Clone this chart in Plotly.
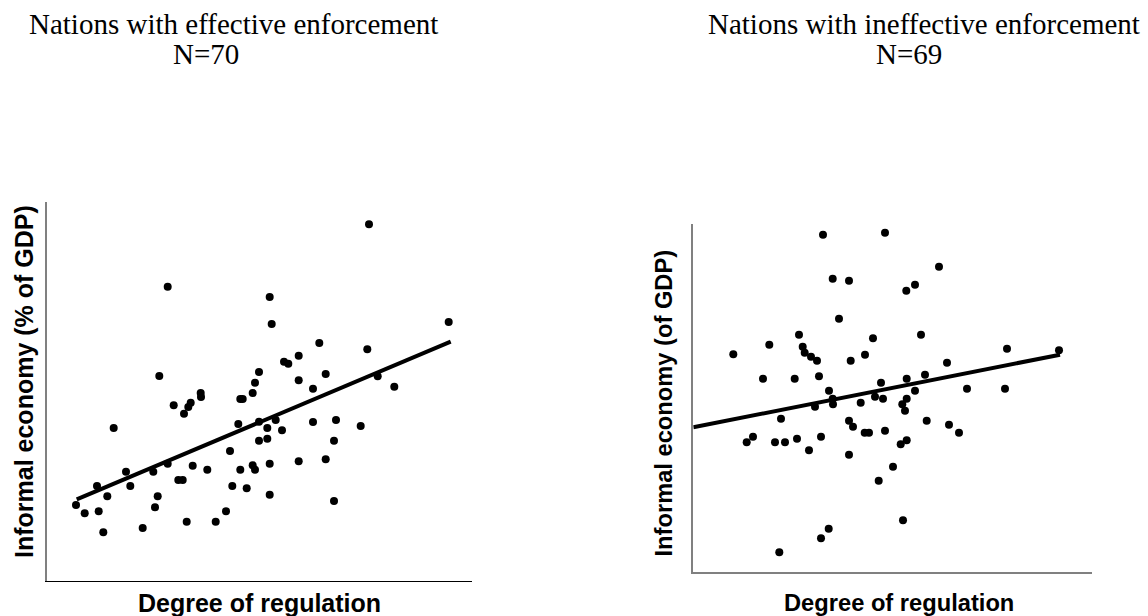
import plotly.graph_objects as go

W, H = 1148, 616

# ---------------- Data (arbitrary units, no tick values shown) ----------------
eff_reg = [29.0, 37.7, 50.0, 51.7, 56.3, 60.3, 66.7, 79.0, 83.3, 95.7,
           106.3, 108.0, 110.7, 112.3, 120.7, 120.7, 126.7, 131.3, 135.7, 137.0,
           139.7, 141.3, 143.7, 145.7, 153.7, 154.0, 160.3, 168.7, 179.0, 183.0,
           185.3, 191.3, 193.3, 193.3, 195.7, 199.7, 205.7, 205.7, 208.0, 208.0,
           212.0, 212.0, 212.0, 220.3, 220.3, 222.7, 222.7, 222.7, 224.7, 228.7,
           235.0, 237.0, 241.3, 251.7, 251.7, 251.7, 266.0, 266.0, 272.3, 278.7,
           278.7, 287.0, 287.0, 289.0, 313.7, 320.3, 322.0, 330.7, 347.3, 401.7]
eff_inf = [76.0, 67.7, 95.0, 69.7, 48.7, 84.7, 153.0, 109.3, 95.0, 53.0,
           109.3, 73.7, 84.7, 205.0, 117.3, 294.3, 175.7, 101.0, 101.0, 167.3,
           59.3, 174.0, 178.3, 115.3, 188.0, 184.0, 111.3, 59.3, 69.7, 130.0,
           95.0, 157.0, 111.3, 182.0, 182.0, 92.7, 188.0, 115.7, 111.3, 198.3,
           209.0, 159.3, 140.3, 153.0, 142.3, 284.0, 117.3, 86.3, 257.0, 161.0,
           150.7, 219.3, 217.3, 225.3, 200.7, 119.7, 192.3, 159.0, 238.0, 207.0,
           121.7, 140.3, 80.0, 161.0, 155.0, 231.7, 356.7, 204.7, 194.3, 259.0]
eff_trend_x = [29.7, 403.7]
eff_trend_y = [81.7, 239.3]

ineff_reg = [40.0, 53.4, 59.7, 69.7, 76.0, 81.7, 86.0, 87.7, 91.7, 101.4,
             103.7, 105.7, 109.4, 111.4, 115.7, 117.7, 121.7, 123.7, 125.7, 127.7,
             127.7, 129.7, 135.4, 135.7, 139.4, 139.4, 139.7, 145.7, 155.7, 155.7,
             155.7, 157.4, 159.7, 167.4, 171.4, 171.7, 175.7, 179.7, 181.7, 185.4,
             187.7, 189.7, 191.7, 191.7, 199.7, 207.4, 209.0, 209.7, 211.7, 213.0,
             213.4, 213.4, 213.4, 221.7, 221.7, 227.7, 231.7, 233.4, 245.7, 253.7,
             255.7, 265.7, 273.7, 311.7, 313.7, 365.7]
ineff_inf = [217.4, 129.4, 135.0, 193.0, 227.0, 129.4, 19.4, 153.0, 129.4, 193.0,
             133.0, 237.0, 225.0, 219.0, 121.4, 215.0, 165.0, 211.0, 195.4, 135.0,
             33.4, 337.0, 43.0, 181.0, 293.0, 173.0, 167.4, 253.0, 291.0, 151.0,
             117.0, 211.0, 145.0, 169.0, 139.0, 217.0, 139.0, 233.4, 175.0, 91.0,
             189.0, 173.0, 339.0, 141.0, 105.0, 127.4, 167.4, 51.4, 161.0, 281.0,
             173.0, 193.0, 131.4, 287.0, 181.0, 237.0, 197.0, 151.0, 305.0, 209.0,
             147.0, 139.0, 183.0, 183.0, 223.0, 221.4]
ineff_trend_x = [0.0, 366.7]
ineff_trend_y = [144.4, 217.0]

titles_left = ["Nations with effective enforcement", "N=70"]
titles_right = ["Nations with ineffective enforcement", "N=69"]
xlabel = "Degree of regulation"
ylabel_left = "Informal economy (% of GDP)"
ylabel_right = "Informal economy (of GDP)"

# ---------------- Figure ----------------
def px_x(x):
    return x / W

def px_y(y):
    return 1 - y / H

fig = go.Figure()

fig.add_trace(go.Scatter(x=eff_reg, y=eff_inf, mode="markers",
                         marker=dict(color="black", size=8),
                         xaxis="x", yaxis="y", showlegend=False, hoverinfo="skip"))
fig.add_trace(go.Scatter(x=eff_trend_x, y=eff_trend_y, mode="lines",
                         line=dict(color="black", width=4),
                         xaxis="x", yaxis="y", showlegend=False, hoverinfo="skip"))
fig.add_trace(go.Scatter(x=ineff_reg, y=ineff_inf, mode="markers",
                         marker=dict(color="black", size=8),
                         xaxis="x2", yaxis="y2", showlegend=False, hoverinfo="skip"))
fig.add_trace(go.Scatter(x=ineff_trend_x, y=ineff_trend_y, mode="lines",
                         line=dict(color="black", width=4),
                         xaxis="x2", yaxis="y2", showlegend=False, hoverinfo="skip"))

ax_common = dict(showgrid=False, zeroline=False, showticklabels=False, ticks="",
                 showline=True, fixedrange=True)

fig.update_layout(
    width=W, height=H,
    margin=dict(l=0, r=0, t=0, b=0),
    paper_bgcolor="white", plot_bgcolor="white",
    xaxis=dict(domain=[px_x(47), px_x(472)], range=[0, 425], anchor="y",
               linecolor="black", linewidth=1.2, **ax_common),
    yaxis=dict(domain=[px_y(581), px_y(202)], range=[0, 379], anchor="x",
               linecolor="#808080", linewidth=1.6, **ax_common),
    xaxis2=dict(domain=[px_x(693.3), px_x(1091.7)], range=[0, 398.4], anchor="y2",
                linecolor="#808080", linewidth=1.6, **ax_common),
    yaxis2=dict(domain=[px_y(571.7), px_y(224)], range=[0, 347.7], anchor="x2",
                linecolor="#808080", linewidth=1.6, **ax_common),
)

serif = dict(family="Liberation Serif, Times New Roman, serif", size=29, color="black")
sans_l = dict(family="Liberation Sans, Arial, sans-serif", size=25, color="black")
sans_r = dict(family="Liberation Sans, Arial, sans-serif", size=23.7, color="black")

annots = []
def add_text(text, x, y, font, angle=0):
    annots.append(dict(text=text, x=px_x(x), y=px_y(y), xref="paper", yref="paper",
                       xanchor="center", yanchor="middle", showarrow=False,
                       font=font, textangle=angle))

add_text(titles_left[0], 233, 24, serif)
add_text(titles_left[1], 206, 54, serif)
add_text(titles_right[0], 923.5, 24, serif)
add_text(titles_right[1], 909, 54, serif)
add_text("<b>%s</b>" % xlabel, 259, 603, sans_l)
add_text("<b>%s</b>" % xlabel, 899, 603, sans_r)
add_text("<b>%s</b>" % ylabel_left, 24, 382, sans_l, angle=-90)
add_text("<b>%s</b>" % ylabel_right, 663.5, 403, sans_r, angle=-90)

fig.update_layout(annotations=annots)

fig.write_html("out.html", config=dict(displayModeBar=False))
